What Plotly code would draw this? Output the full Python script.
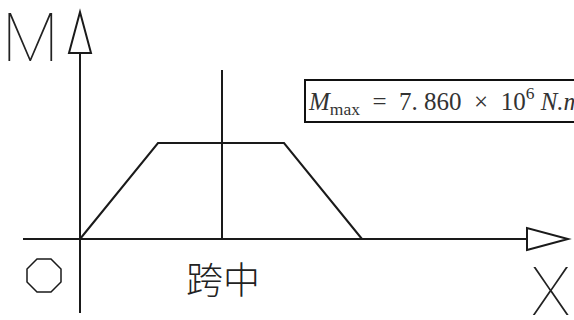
import plotly.graph_objects as go

# bending moment diagram, units: x along span, y moment (scaled)
span_x = [0, 78, 204, 282]
moment = [0, 96, 96, 0]
midspan = 142
midline_top = 169
m_label = "<i>M</i><sub>max</sub>  =  7. 860  ×  10<sup>6</sup> <i>N.m</i>"
x_label = "跨中"

line = dict(color="#1a1a1a", width=2)

fig = go.Figure()
fig.add_trace(go.Scatter(x=span_x, y=moment, mode="lines", line=line, hoverinfo="skip"))
fig.add_trace(go.Scatter(x=[midspan, midspan], y=[0, midline_top], mode="lines", line=line, hoverinfo="skip"))

# axes
fig.add_shape(type="line", x0=-57, y0=0, x1=447, y1=0, line=line)
fig.add_shape(type="path", path="M 447 -11 L 488 0 L 447 11 Z", line=line)
fig.add_shape(type="line", x0=0, y0=-74, x1=0, y1=186, line=line)
fig.add_shape(type="path", path="M -11 186 L 0 227 L 11 186 Z", line=line)
# origin octagon
fig.add_shape(type="path",
              path="M -43 -20 L -29 -20 L -19 -30 L -19 -43 L -29 -53 L -43 -53 L -53 -43 L -53 -30 Z",
              line=dict(color="#1a1a1a", width=1.5))

thin = dict(family="Roboto", size=66, color="#222", weight=100)
fig.add_annotation(x=-50, y=201, text="M", showarrow=False, font=thin)
fig.add_annotation(x=470, y=-53, text="X", showarrow=False, font=thin)
fig.add_annotation(x=143, y=-39, text=x_label, showarrow=False,
                   font=dict(family="Noto Sans CJK SC", size=37, color="#222", weight=300))
fig.add_annotation(x=224, y=138, xanchor="left", yanchor="middle", text=m_label, showarrow=False,
                   font=dict(family="Liberation Serif", size=25, color="#333"),
                   bordercolor="#111", borderwidth=2, borderpad=2, bgcolor="white")

fig.update_xaxes(range=[-80, 494], visible=False)
fig.update_yaxes(range=[-81, 239], visible=False)
fig.update_layout(width=574, height=320, margin=dict(l=0, r=0, t=0, b=0),
                  plot_bgcolor="white", paper_bgcolor="white", showlegend=False)
fig.write_html("out.html", config={"displayModeBar": False},
               post_script="document.body.style.margin='0';")
